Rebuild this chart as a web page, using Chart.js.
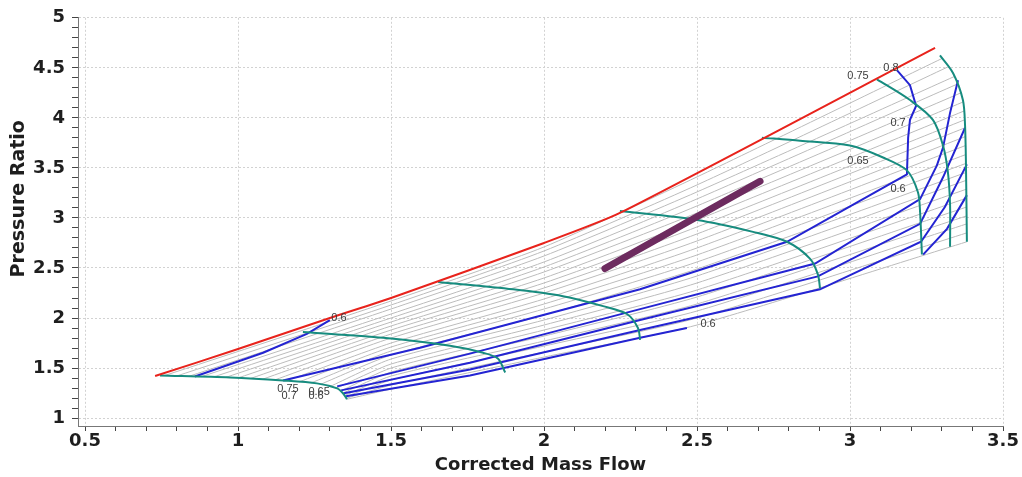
<!DOCTYPE html>
<html>
<head>
<meta charset="utf-8">
<script src="https://cdn.jsdelivr.net/npm/chart.js@4.4.1/dist/chart.umd.min.js"></script>
<style>
  html, body { margin: 0; padding: 0; background: #fff; }
  #wrap { width: 1022px; height: 477px; }
</style>
</head>
<body>
<div id="wrap"><canvas id="compMap"></canvas></div>
<script>
// ===== COMPRESSOR MAP — Pressure Ratio vs Corrected Mass Flow =====

// surge line (red)
const surgeLine = [[0.729, 1.42], [1.0, 1.69], [1.3, 2.0], [1.5, 2.2], [2.0, 2.75], [2.248, 3.05], [3.278, 4.70]];

// speed lines (teal), lowest to highest
const speedLines = [
  [[0.745, 1.426], [0.974, 1.406], [1.147, 1.376], [1.258, 1.347], [1.324, 1.297], [1.343, 1.248], [1.356, 1.188]],
  [[1.212, 1.86], [1.474, 1.802], [1.693, 1.723], [1.801, 1.653], [1.850, 1.594], [1.873, 1.455]],
  [[1.654, 2.36], [1.899, 2.287], [2.062, 2.218], [2.193, 2.119], [2.271, 2.040], [2.307, 1.901], [2.314, 1.782]],
  [[2.248, 3.07], [2.500, 2.980], [2.683, 2.861], [2.794, 2.762], [2.869, 2.594], [2.895, 2.436], [2.902, 2.297]],
  [[2.712, 3.802], [2.837, 3.772], [3.000, 3.723], [3.108, 3.604], [3.186, 3.475], [3.222, 3.257], [3.229, 3.059], [3.235, 2.634]],
  [[3.088, 4.385], [3.196, 4.178], [3.271, 3.980], [3.304, 3.723], [3.320, 3.455], [3.327, 3.129], [3.327, 2.713]],
  [[3.294, 4.624], [3.337, 4.446], [3.369, 4.178], [3.376, 3.921], [3.379, 3.525], [3.382, 2.762]]
];

// efficiency contours (blue)
const effLines = [
  [[0.859, 1.416], [1.082, 1.653], [1.225, 1.842], [1.30, 1.98]],
  [[1.147, 1.376], [1.595, 1.703], [2.314, 2.287], [2.794, 2.762], [3.186, 3.436], [3.190, 3.802], [3.196, 3.980], [3.216, 4.119], [3.196, 4.327], [3.154, 4.475]],
  [[1.324, 1.317], [1.758, 1.644], [2.314, 2.089], [2.886, 2.545], [3.229, 3.188], [3.284, 3.525], [3.304, 3.703], [3.327, 4.050], [3.353, 4.376]],
  [[1.337, 1.277], [1.758, 1.554], [2.314, 1.980], [2.895, 2.416], [3.229, 2.941], [3.304, 3.406], [3.376, 3.901]],
  [[1.346, 1.248], [1.758, 1.485], [2.314, 1.881], [2.902, 2.287], [3.232, 2.762], [3.310, 3.109], [3.382, 3.535]],
  [[1.353, 1.218], [1.758, 1.426], [2.314, 1.802], [2.467, 1.901]],
  [[3.239, 2.634], [3.317, 2.891], [3.382, 3.228]]
];

// beta lines (grey): start on lowest speed line, cross x = 1.5 / 2.0 / 2.5, end on highest speed line
const grayStartX = [0.76, 0.80, 0.84, 0.88, 0.92, 0.96, 1.00, 1.04, 1.08, 1.12, 1.16, 1.20, 1.24, 1.27, 1.30, 1.32, 1.335, 1.343, 1.348, 1.351, 1.354, 1.356];
const grayStartY = [1.425, 1.421, 1.418, 1.414, 1.411, 1.407, 1.401, 1.395, 1.388, 1.381, 1.373, 1.362, 1.353, 1.338, 1.315, 1.297, 1.270, 1.250, 1.225, 1.212, 1.198, 1.188];
const grayCrossX = [1.5, 2.0, 2.5];
const grayAt15 = [2.17, 2.13, 2.09, 2.04, 2.00, 1.96, 1.92, 1.88, 1.84, 1.80, 1.75, 1.71, 1.67, 1.63, 1.59, 1.54, 1.50, 1.46, 1.42, 1.38, 1.33, 1.29];
const grayAt20 = [2.71, 2.67, 2.62, 2.56, 2.51, 2.46, 2.40, 2.35, 2.30, 2.25, 2.19, 2.14, 2.09, 2.03, 1.98, 1.93, 1.88, 1.82, 1.77, 1.72, 1.66, 1.61];
const grayAt25 = [3.41, 3.33, 3.26, 3.19, 3.12, 3.05, 2.98, 2.91, 2.84, 2.77, 2.70, 2.63, 2.56, 2.49, 2.42, 2.35, 2.28, 2.21, 2.14, 2.07, 2.00, 1.93];
const grayEndX = [3.301, 3.317, 3.343, 3.350, 3.361, 3.369, 3.373, 3.374, 3.376, 3.376, 3.377, 3.379, 3.379, 3.380, 3.380, 3.380, 3.381, 3.381, 3.381, 3.382, 3.382, 3.382];
const grayEndY = [4.594, 4.505, 4.416, 4.337, 4.248, 4.158, 4.069, 3.980, 3.901, 3.812, 3.723, 3.634, 3.545, 3.455, 3.376, 3.287, 3.198, 3.109, 3.020, 2.941, 2.851, 2.762];

// operating line (thick purple)
const opLine = [[2.199, 2.495], [2.706, 3.366]];

// contour labels
const labelText = ['0.6', '0.75', '0.7', '0.65', '0.6', '0.6', '0.75', '0.8', '0.7', '0.65', '0.6'];
const labelX = [1.33, 1.163, 1.167, 1.265, 1.255, 2.536, 3.026, 3.134, 3.157, 3.026, 3.157];
const labelY = [2.0, 1.287, 1.218, 1.257, 1.218, 1.941, 4.416, 4.495, 3.95, 3.574, 3.287];

const C = {
  red:    '#e8231c',
  teal:   '#178c7f',
  blue:   '#2424d2',
  gray:   '#bcbcbc',
  purple: '#6d2b5f',
  grid:   '#d2d2d2',
  text:   '#1e1e1e'
};

const isMajor = v => Math.abs(v * 2 - Math.round(v * 2)) < 1e-6;
const fmt = v => String(Math.round(v * 2) / 2);
const tickFont = { family: "'DejaVu Sans', sans-serif", size: 18, weight: 'bold' };

function series(points, color, width, order, tension) {
  return {
    data: points.map(p => ({ x: p[0], y: p[1] })),
    borderColor: color,
    borderWidth: width,
    showLine: true,
    pointRadius: 0,
    tension: tension || 0,
    fill: false,
    order: order
  };
}

const datasets = [];
datasets.push(Object.assign(series(opLine, C.purple, 7, 0), { borderCapStyle: 'round' }));
datasets.push(series(surgeLine, C.red, 2, 1, 0.2));
speedLines.forEach(s => datasets.push(series(s, C.teal, 2, 2, 0.3)));
effLines.forEach(s => datasets.push(series(s, C.blue, 2, 3)));
grayStartX.forEach((sx, i) => {
  const pts = [[sx, grayStartY[i]],
    [grayCrossX[0], grayAt15[i]], [grayCrossX[1], grayAt20[i]], [grayCrossX[2], grayAt25[i]],
    [grayEndX[i], grayEndY[i]]];
  datasets.push(series(pts, C.gray, 1, 4, 0.2));
});

const mapLabels = {
  id: 'mapLabels',
  afterDatasetsDraw(chart) {
    const { ctx, scales: { x, y } } = chart;
    ctx.save();
    ctx.font = "11px 'Liberation Sans', Arial, sans-serif";
    ctx.fillStyle = '#3c3c3c';
    ctx.textAlign = 'center';
    ctx.textBaseline = 'middle';
    labelText.forEach((t, i) => {
      ctx.fillText(t, x.getPixelForValue(labelX[i]), y.getPixelForValue(labelY[i]));
    });
    ctx.restore();
  }
};

new Chart(document.getElementById('compMap'), {
  type: 'scatter',
  data: { datasets },
  plugins: [mapLabels],
  options: {
    responsive: true, maintainAspectRatio: false,
    animation: false,
    layout: { padding: { left: 4, right: 19, top: 15, bottom: 0 } },
    plugins: { legend: { display: false }, tooltip: { enabled: false } },
    scales: {
      x: {
        type: 'linear', min: 0.477, max: 3.5,
        ticks: {
          stepSize: 0.1, autoSkip: false, maxRotation: 0, includeBounds: false,
          padding: 0, color: C.text, font: tickFont,
          callback: v => isMajor(v) ? fmt(v) : ''
        },
        grid: {
          color: c => (c.tick && isMajor(c.tick.value)) ? C.grid : 'rgba(0,0,0,0)',
          tickColor: '#444', tickLength: 5
        },
        border: { color: '#777', width: 1, dash: [2, 2] },
        title: {
          display: true, text: 'Corrected Mass Flow', color: C.text,
          font: { family: "'DejaVu Sans', sans-serif", size: 18, weight: 'bold' },
          padding: { top: 0, bottom: 1 }
        },
        afterFit: s => { s.height = 51; }
      },
      y: {
        type: 'linear', min: 0.921, max: 5,
        ticks: {
          stepSize: 0.1, autoSkip: false, includeBounds: false,
          padding: 7, color: C.text, font: tickFont,
          callback: v => isMajor(v) ? fmt(v) : ''
        },
        grid: {
          color: c => (c.tick && isMajor(c.tick.value)) ? C.grid : 'rgba(0,0,0,0)',
          tickColor: '#444', tickLength: 6
        },
        border: { color: '#777', width: 1, dash: [2, 2] },
        title: {
          display: true, text: '       Pressure Ratio', color: C.text,
          font: { family: "'DejaVu Sans', sans-serif", size: 19, weight: 'bold' },
          padding: { top: 4, bottom: 0 }
        },
        afterFit: s => { s.width = 74; }
      }
    }
  }
});
</script>
</body>
</html>
